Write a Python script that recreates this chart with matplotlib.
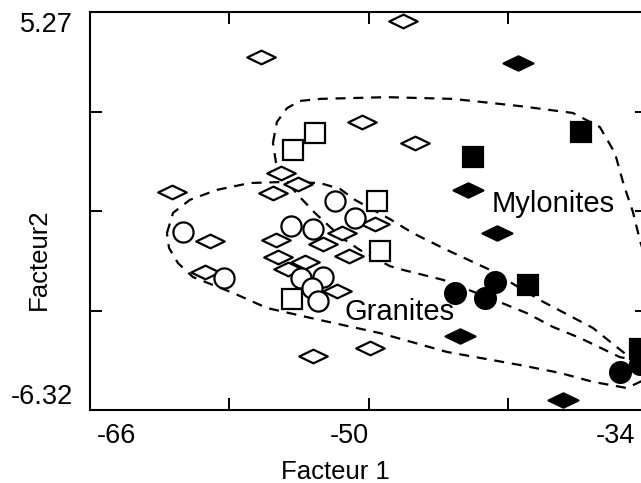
#!/usr/bin/env python3

import numpy as np
import matplotlib
matplotlib.use("Agg")
from matplotlib import pyplot as plt
from matplotlib.path import Path

plt.rcParams['font.family'] = ['Liberation Sans', 'DejaVu Sans']

# --- data (Facteur 1, Facteur 2) ---
open_diamond_x = [-48.0, -56.2, -50.4, -47.3, -61.3, -55.0, -54.05, -55.5, -59.1, -55.3, -52.6,
                  -51.5, -49.6, -51.1, -55.2, -54.6, -53.65, -51.8, -59.4, -49.9, -53.2]
open_diamond_y = [5.01, 3.96, 2.07, 1.46, 0.03, 0.58, 0.26, 0.00, -1.40, -1.37, -1.49,
                  -1.17, -0.90, -1.84, -1.86, -2.21, -2.01, -2.85, -2.30, -4.51, -4.75]

open_circle_x = [-60.66, -58.3, -54.45, -53.19, -51.93, -50.78, -53.88, -52.62, -53.25, -52.9]
open_circle_y = [-1.14, -2.48, -0.96, -1.05, -0.23, -0.73, -2.48, -2.45, -2.77, -3.15]

open_square_x = [-53.08, -54.34, -49.52, -49.34, -54.4]
open_square_y = [1.75, 1.25, -0.23, -1.69, -3.09]

filled_diamond_x = [-41.42, -44.29, -42.62, -44.75, -38.83]
filled_diamond_y = [3.78, 0.09, -1.17, -4.16, -6.03]

filled_square_x = [-44.0, -37.8, -40.84, -34.41]
filled_square_y = [1.05, 1.78, -2.68, -4.54]

filled_circle_x = [-45.04, -42.74, -43.31, -35.56, -34.41]
filled_circle_y = [-2.91, -2.59, -3.06, -5.21, -4.98]

# hand-drawn envelopes
granite_x = [-61.58, -61.23, -60.26, -58.71, -56.81, -54.91, -52.79, -51.64, -50.78, -48.77,
             -47.45, -45.49, -43.02, -40.15, -37.11, -35.16, -33.55, -35.16, -37.11, -39.0,
             -41.3, -45.49, -49.34, -52.79, -55.83, -57.79, -60.08, -60.95, -61.46, -61.58]
granite_y = [-1.17, -0.58, -0.20, 0.09, 0.29, 0.32, 0.29, 0.12, -0.20, -0.76,
             -1.17, -1.66, -2.24, -3.12, -3.93, -4.72, -5.30, -5.68, -5.50, -5.24,
             -5.01, -4.63, -4.08, -3.70, -3.35, -2.91, -2.45, -2.04, -1.60, -1.17]

mylonite_x = [-55.49, -55.26, -54.68, -53.94, -52.79, -48.94, -45.15, -41.3, -38.26, -36.71,
              -35.84, -35.33, -34.81, -34.41, -33.55, -33.26, -34.12, -35.56, -37.86, -39.41,
              -40.9, -42.45, -45.72, -48.02, -48.77, -50.49, -51.35, -52.21, -53.08, -53.94,
              -54.8, -55.32, -55.49]
mylonite_y = [1.46, 2.07, 2.47, 2.68, 2.74, 2.79, 2.74, 2.53, 2.33, 1.92,
              1.16, 0.23, -0.55, -1.37, -2.83, -4.28, -4.92, -4.78, -4.22, -3.90,
              -3.50, -3.18, -2.53, -2.24, -2.13, -1.66, -1.37, -0.99, -0.58, -0.12,
              0.38, 0.90, 1.46]

XMIN, XMAX = -66, -34
YMIN, YMAX = -6.32, 5.27

W, H = 641, 483
fig = plt.figure(figsize=(W / 100, H / 100), dpi=100)
ax = fig.add_axes([90 / W, 73 / H, 557 / W, 398 / H])

# flat diamond marker
diamond = Path([(-1, 0), (0, 0.48), (1, 0), (0, -0.48), (-1, 0)],
               [Path.MOVETO, Path.LINETO, Path.LINETO, Path.LINETO, Path.CLOSEPOLY])

for xs, ys in [(granite_x, granite_y), (mylonite_x, mylonite_y)]:
    ln, = ax.plot(xs, ys, color='black', linewidth=1.6, zorder=1)
    ln.set_dashes([4.5, 3.5])

mk = dict(linestyle='none', markeredgecolor='black', markeredgewidth=1.6, zorder=3)
ax.plot(open_diamond_x, open_diamond_y, marker=diamond, markersize=20.5, markerfacecolor='white', **mk)
ax.plot(open_circle_x, open_circle_y, marker='o', markersize=14.5, markerfacecolor='white', **mk)
ax.plot(open_square_x, open_square_y, marker='s', markersize=14.5, markerfacecolor='white', **mk)
ax.plot(filled_diamond_x, filled_diamond_y, marker=diamond, markersize=21.5, markerfacecolor='black', **mk)
ax.plot(filled_square_x, filled_square_y, marker='s', markersize=15, markerfacecolor='black', **mk)
ax.plot(filled_circle_x, filled_circle_y, marker='o', markersize=15, markerfacecolor='black', **mk)

ax.text(-39.4, -0.55, 'Mylonites', fontsize=21, ha='center', va='baseline')
ax.text(-48.2, -3.70, 'Granites', fontsize=21, ha='center', va='baseline')

ax.set_xlim(XMIN, XMAX)
ax.set_ylim(YMIN, YMAX)

# ticks at quarter points, pointing in, no labels
ax.set_xticks(np.linspace(XMIN, XMAX, 5)[1:-1])
ax.set_yticks(np.linspace(YMIN, YMAX, 5)[1:-1])
ax.tick_params(direction='in', length=8.5, width=1.4, top=True, right=True,
               labelbottom=False, labelleft=False)
for s in ax.spines.values():
    s.set_linewidth(1.5)

# end labels as in the original print
xlab_tr = ax.get_xaxis_transform()
for xv, lab in zip([-64.5, -51.1, -35.8], ['-66', '-50', '-34']):
    ax.text(xv, -0.065, lab, transform=xlab_tr, fontsize=19.5, ha='center', va='center', clip_on=False)
ylab_tr = ax.get_yaxis_transform()
for yv, lab in zip([4.89, -5.94], ['5.27', '-6.32']):
    ax.text(-0.03, yv, lab, transform=ylab_tr, fontsize=19.5, ha='right', va='center', clip_on=False)

fig.text(335 / W, 1 - 472 / H, 'Facteur 1', fontsize=18.5, ha='center', va='center')
fig.text(39 / W, 1 - 259 / H, 'Facteur2', fontsize=18.5, ha='center', va='center', rotation=90)

fig.savefig('out.png', dpi=100)
